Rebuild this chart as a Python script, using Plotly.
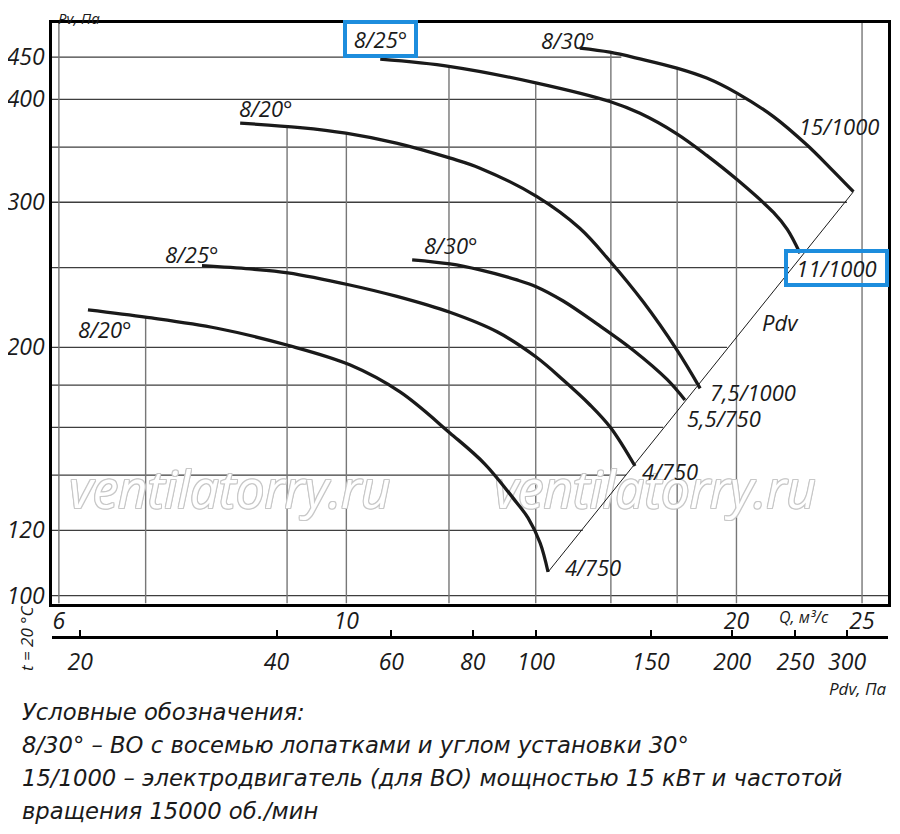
import numpy as np
import plotly.graph_objects as go

# Кривые Pv(Q): расход Q, м3/с и полное давление Pv, Па
# нижняя группа (4/750, 5,5/750)
q_20_low = [6.318, 7.018, 7.946, 9.013, 10.06, 11.00, 12.02, 12.79, 13.54, 13.81, 14.11, 14.31]
pv_20_low = [222.1, 217.5, 211.0, 201.2, 190.5, 176.6, 157.5, 144.4, 129.5, 124.2, 115.8, 106.8]

q_25_low = [7.737, 8.425, 9.013, 10.06, 10.94, 12.02, 13.07, 14.01, 14.70, 15.42, 16.00, 16.70]
pv_25_low = [251.3, 249.0, 246.3, 238.1, 230.6, 220.6, 208.9, 194.7, 182.6, 170.3, 159.7, 143.6]

q_30_low = [11.24, 12.02, 12.68, 13.54, 14.01, 14.70, 15.61, 16.64, 17.68, 18.25]
pv_30_low = [255.4, 252.5, 248.3, 241.5, 237.0, 227.7, 213.6, 198.6, 182.9, 172.7]

# верхняя группа (7,5/1000, 11/1000, 15/1000)
q_20_up = [8.28, 9.21, 9.99, 10.93, 12.03, 12.68, 14.03, 15.14, 15.97, 16.95, 17.99, 18.75]
pv_20_up = [374.2, 369.6, 363.9, 353.9, 339.3, 330.0, 304.8, 279.0, 254.6, 227.0, 198.6, 178.4]

q_25_up = [10.62, 12.03, 14.03, 15.97, 16.85, 17.99, 18.97, 20.03, 21.36, 21.89, 22.39]
pv_25_up = [447.4, 438.3, 418.5, 397.5, 384.6, 363.2, 342.0, 319.4, 291.6, 278.1, 260.2]

q_30_up = [15.14, 15.97, 16.85, 17.99, 18.97, 20.03, 21.36, 22.66, 23.62, 24.62]
pv_30_up = [461.5, 456.3, 447.8, 436.4, 424.4, 406.7, 381.1, 352.2, 330.3, 309.0]

# линия динамического давления Pdv
q_pdv = [14.31, 24.62]
pv_pdv = [106.8, 309.0]

# подписи кривых
label_text = ['8/20°', '8/25°', '8/30°', '8/20°', '8/30°',
              '15/1000', '7,5/1000', '5,5/750', '4/750', '4/750', 'Pdv']
label_q = [6.51, 7.60, 12.04, 8.67, 14.83, 24.00, 20.60, 19.56, 17.78, 15.50, 21.61]
label_pv = [210.6, 259.7, 266.3, 390.6, 472.3, 371.3, 176.6, 164.2, 141.6, 108.3, 214.8]

# подписи в рамках
boxed_text = ['8/25°', '11/1000']
boxed_q = [10.62, 23.89]
boxed_pv = [473.6, 249.7]

# сетка: вертикальные линии идут от низа до кривой, горизонтальные - до линии Pdv
grid_q = [6, 7, 9, 10, 12, 14, 16, 18, 20, 25]
grid_q_top = [None, 217.6, 370.6, 363.9, 438.3, 418.5, 456.3, 436.4, 405.0, None]
grid_pv = [100, 120, 140, 160, 180, 200, 250, 300, 350, 400, 450]
grid_pv_end = [None, 15.22, 16.44, 17.56, 18.61, 19.67, 21.96, 24.34, 22.8, 20.3, 16.3]

# подписи осей
q_ticks = [6, 10, 20, 25]
pv_ticks = [100, 120, 200, 300, 400, 450]
pdv_ticks = [20, 40, 60, 80, 100, 150, 200, 250, 300]

# водяной знак
wm_q = [8.13, 17.31]
wm_pv = [132.4, 132.4]

Q_MIN, Q_MAX = 5.927, 26.18
PV_MIN, PV_MAX = 97.8, 495.0
PDV_MIN, PDV_MAX = 18.1, 346.7

FONT = 'Open Sans, Liberation Sans, sans-serif'
TXT = '#1a1a1a'

fig = go.Figure()

# горизонтальные линии сетки
hx, hy = [], []
for pv, q_end in zip(grid_pv, grid_pv_end):
    hx += [Q_MIN, q_end or Q_MAX, None]
    hy += [pv, pv, None]
fig.add_trace(go.Scatter(x=hx, y=hy, mode='lines', hoverinfo='skip',
                         line=dict(color='#3e3e3e', width=1.3)))

# вертикальные линии сетки
vx, vy = [], []
for q, pv_top in zip(grid_q, grid_q_top):
    vx += [q, q, None]
    vy += [PV_MIN, pv_top or PV_MAX, None]
fig.add_trace(go.Scatter(x=vx, y=vy, mode='lines', hoverinfo='skip',
                         line=dict(color='#777777', width=1.4)))

# водяной знак (контурный текст)
outline = ', '.join(f'{dx}px {dy}px 0 #c8c8c8' for dx, dy in
                    [(-1, -1), (1, -1), (-1, 1), (1, 1), (0, 1), (0, -1), (1, 0), (-1, 0)])
fig.add_trace(go.Scatter(x=wm_q, y=wm_pv, mode='text', text=['ventilatorry.ru'] * 2,
                         hoverinfo='skip',
                         textfont=dict(family=FONT, size=51, color='white', style='italic',
                                       shadow=outline)))

# линия Pdv
fig.add_trace(go.Scatter(x=q_pdv, y=pv_pdv, mode='lines',
                         line=dict(color=TXT, width=1)))

# характеристики вентилятора
curves = [(q_20_low, pv_20_low), (q_25_low, pv_25_low), (q_30_low, pv_30_low),
          (q_20_up, pv_20_up), (q_25_up, pv_25_up), (q_30_up, pv_30_up)]
for q, pv in curves:
    fig.add_trace(go.Scatter(x=q, y=pv, mode='lines',
                             line=dict(color=TXT, width=3.3, shape='spline', smoothing=1)))

# пустой след для второй оси Pdv
fig.add_trace(go.Scatter(x=[None], y=[None], xaxis='x2', mode='lines'))

label_font = dict(family=FONT, size=22, color=TXT, style='italic')
annotations = []
for t, q, pv in zip(label_text, label_q, label_pv):
    annotations.append(dict(x=np.log10(q), y=np.log10(pv), xref='x', yref='y', text=t,
                            showarrow=False, font=label_font))
for t, q, pv, w in zip(boxed_text, boxed_q, boxed_pv, [63, 93]):
    annotations.append(dict(x=np.log10(q), y=np.log10(pv), xref='x', yref='y', text=t,
                            showarrow=False, width=w, height=26, borderpad=2,
                            bordercolor='#1d8ddd', borderwidth=4, font=label_font))


def paper_note(text, x, y, size, xanchor='center', **kw):
    annotations.append(dict(x=x, y=y, xref='paper', yref='paper', text=text, showarrow=False,
                            xanchor=xanchor, yanchor='middle',
                            font=dict(family=FONT, size=size, color=TXT, style='italic'), **kw))


paper_note('Pv, Па', 0.032, 1.0063, 15)
paper_note('Q, м³/с', 0.900, 0.249, 16)
paper_note('Pdv, Па', 1.0, 0.159, 17, xanchor='right')
paper_note('t = 20 °C', -0.031, 0.2225, 17, textangle=-90)

legend_lines = ['Условные обозначения:',
                '8/30° – ВО с восемью лопатками и углом установки 30°',
                '15/1000 – электродвигатель (для ВО) мощностью 15 кВт и частотой',
                'вращения 15000 об./мин']
for i, line in enumerate(legend_lines):
    annotations.append(dict(x=-0.0383, y=0.129 - i * 0.0417, xref='paper', yref='paper',
                            xanchor='left', yanchor='middle', text=line, showarrow=False,
                            font=dict(family='DejaVu Sans, sans-serif', size=22.7, color=TXT,
                                      style='italic')))

tick_font = dict(family=FONT, size=23, color=TXT, style='italic')

# страница открывается с отступом 8 px, поэтому фигура чуть меньше окна
fig.update_layout(
    width=884, height=818,
    margin=dict(l=44, r=4, t=15, b=12),
    plot_bgcolor='white', paper_bgcolor='white',
    showlegend=False,
    annotations=annotations,
    xaxis=dict(type='log', range=[np.log10(Q_MIN), np.log10(Q_MAX)],
               tickvals=q_ticks, ticktext=[str(v) for v in q_ticks],
               tickfont=tick_font, ticks='', showgrid=False, zeroline=False,
               showline=True, linewidth=2.5, linecolor='black', mirror=True,
               ticklabelstandoff=-5, automargin=False),
    yaxis=dict(type='log', range=[np.log10(PV_MIN), np.log10(PV_MAX)],
               domain=[0.2661, 1],
               tickvals=pv_ticks, ticktext=[str(v) for v in pv_ticks],
               tickfont=tick_font, ticks='', showgrid=False, zeroline=False,
               showline=True, linewidth=2.5, linecolor='black', mirror=True,
               ticklabelstandoff=0, automargin=False),
    xaxis2=dict(type='log', overlaying='x', anchor='free', position=0.2241, side='bottom',
                range=[np.log10(PDV_MIN), np.log10(PDV_MAX)],
                tickvals=pdv_ticks, ticktext=[str(v) for v in pdv_ticks],
                tickfont=tick_font, ticks='inside', ticklen=6, tickwidth=1.5, tickcolor='black',
                showgrid=False, zeroline=False,
                showline=True, linewidth=2.5, linecolor='black',
                ticklabelstandoff=4, automargin=False),
)

fig.write_html("out.html")
